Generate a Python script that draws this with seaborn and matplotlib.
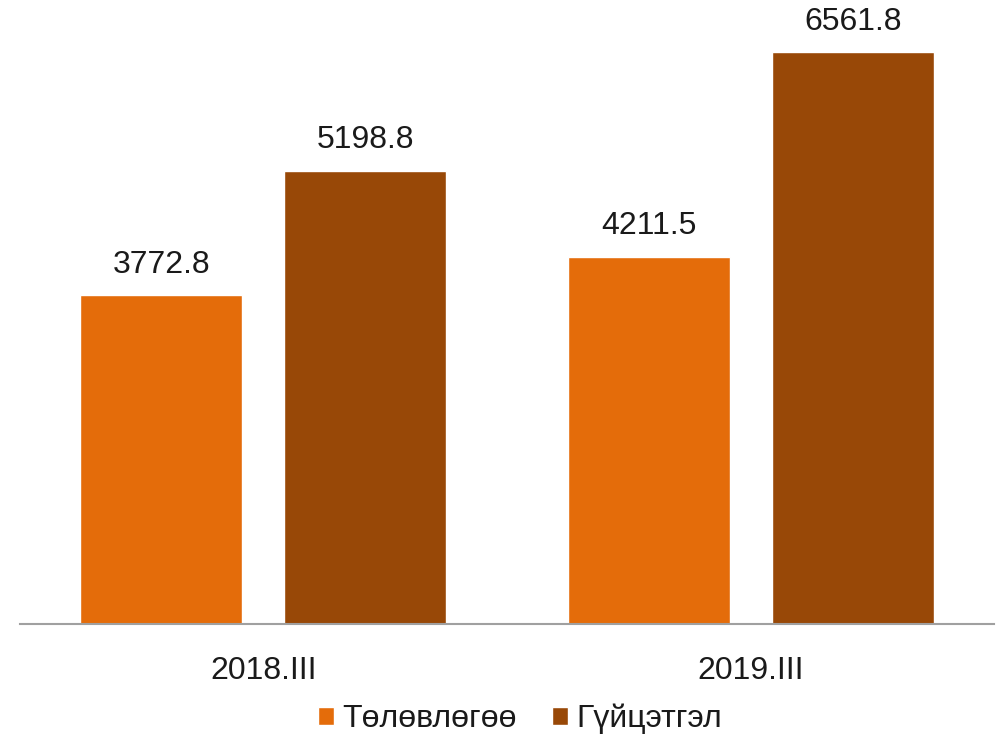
import pandas as pd
import seaborn as sns
import matplotlib.pyplot as plt

periods = ["2018.III", "2019.III"]
series = ["Төлөвлөгөө", "Гүйцэтгэл"]
plan_vals = [3772.8, 4211.5]
actual_vals = [5198.8, 6561.8]
colors = ["#E46C0A", "#984807"]

df = pd.DataFrame({
    "period": periods * 2,
    "series": [series[0]] * 2 + [series[1]] * 2,
    "value": plan_vals + actual_vals,
})

sns.set_theme(style="white")
plt.rcParams["font.family"] = ["Liberation Sans", "DejaVu Sans"]

fig = plt.figure(figsize=(10, 7.35), dpi=100)
ax = fig.add_axes([0.0195, 0.151, 0.975, 0.849])

sns.barplot(data=df, x="period", y="value", hue="series", palette=colors,
            width=0.838, gap=0.206, saturation=1, ax=ax, legend=True)

for c in ax.containers:
    ax.bar_label(c, fmt="%.1f", padding=11, fontsize=23, color="#1a1a1a")

ax.set_ylim(0, 7156)
ax.set_xlim(-0.5, 1.5)
ax.set_xlabel("")
ax.set_ylabel("")
ax.set_yticks([])
ax.tick_params(axis="x", length=0, pad=23, labelsize=23, labelcolor="#1a1a1a")
for s in ["top", "right", "left"]:
    ax.spines[s].set_visible(False)
ax.spines["bottom"].set_color("#a0a0a0")
ax.spines["bottom"].set_linewidth(1.5)

handles, labels = ax.get_legend_handles_labels()
ax.legend_.remove()
fig.legend(handles, labels, loc="center", bbox_to_anchor=(0.52, 0.022),
           ncol=2, frameon=False, fontsize=23, handlelength=0.5, handleheight=0.5,
           handletextpad=0.25, columnspacing=1.1, labelcolor="#1a1a1a")

fig.savefig("out.png", dpi=100)
